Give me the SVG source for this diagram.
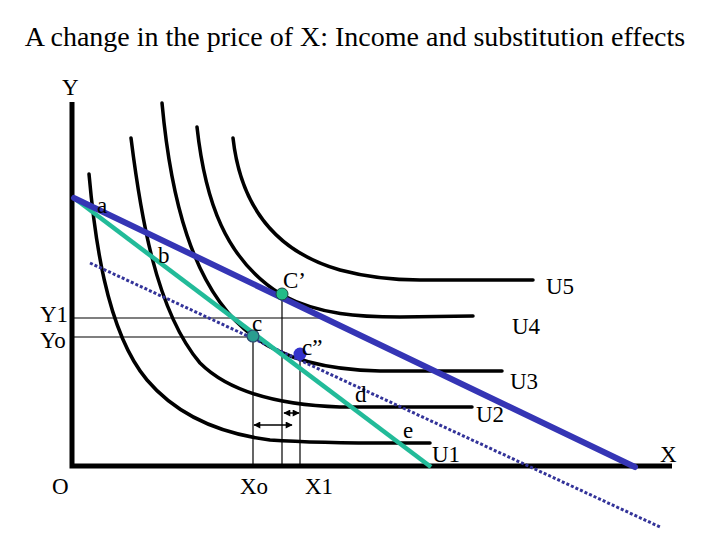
<svg xmlns="http://www.w3.org/2000/svg" width="720" height="540" viewBox="0 0 720 540">
<defs>
<style>
text{font-family:"Liberation Serif","Times New Roman",serif;fill:#000}
.t{font-size:28px}
.l{font-size:23px}
.ic{fill:none;stroke:#000;stroke-width:3.5;stroke-linecap:round}
.ax{stroke:#000;stroke-width:5;fill:none}
.thin{stroke:#000;stroke-width:1.2;fill:none}
.arr{stroke:#000;stroke-width:1.5;fill:none;marker-start:url(#ah);marker-end:url(#ah)}
</style>
<marker id="ah" viewBox="0 0 10 10" refX="9" refY="5" markerUnits="userSpaceOnUse" markerWidth="8" markerHeight="7" orient="auto-start-reverse">
<path d="M0,0 L10,5 L0,10 z" fill="#000"/>
</marker>
</defs>
<rect width="720" height="540" fill="#fff"/>
<text class="t" x="355" y="46" text-anchor="middle">A change in the price of X: Income and substitution effects</text>
<g id="axes">
<path class="ax" d="M72,102 V466 H672"/>
<text class="l" x="62" y="95">Y</text>
<text class="l" x="660" y="462">X</text>
<text class="l" x="52" y="494">O</text>
</g>
<g id="curves">
<g id="U1"><path class="ic" d="M89,174 C94,230 105,330 147,380 C175,413 215,433 270,440 C330,444 400,443 430,443"/><text class="l" x="432" y="462">U1</text></g>
<g id="U2"><path class="ic" d="M131,138 C140,210 155,310 200,363 C230,393 280,405 340,407 L472,407"/><text class="l" x="476" y="422">U2</text></g>
<g id="U3"><path class="ic" d="M162,103 C170,190 190,290 253,336 C285,360 330,370 380,371 L502,371"/><text class="l" x="510" y="389">U3</text></g>
<g id="U4"><path class="ic" d="M197,127 C205,200 225,260 282,295 C320,315 360,317 400,317 L473,316"/><text class="l" x="512" y="334">U4</text></g>
<g id="U5"><path class="ic" d="M233,138 C240,200 270,250 340,270 C370,278 400,280 420,280 L533,280"/><text class="l" x="546" y="294">U5</text></g>
</g>
<g id="connectors">
<path class="thin" d="M74,318 H327 M74,337 H253 M253,336 V466 M282,294 V466 M300,354 V466"/>
<line class="arr" x1="254" y1="425" x2="292" y2="425"/>
<line class="arr" x1="284" y1="413" x2="299" y2="413"/>
<line x1="90" y1="263" x2="660" y2="527" stroke="#333399" stroke-width="3" stroke-dasharray="3,2"/>
<line x1="74" y1="198" x2="431" y2="467" stroke="#22BB99" stroke-width="4.5"/>
<line x1="74" y1="198" x2="635" y2="467" stroke="#3535B5" stroke-width="6" stroke-linecap="round"/>
</g>
<g id="points">
<g id="pC1"><circle cx="282" cy="294" r="6" fill="#22BB88" stroke="#1a4a40" stroke-width="1"/><text class="l" x="283" y="288">C’</text></g>
<g id="pc"><circle cx="253" cy="336" r="6" fill="#2a9d8f" stroke="#2a4a70" stroke-width="1.2"/><text class="l" x="252" y="331">c</text></g>
<g id="pc2"><circle cx="300" cy="354" r="6.5" fill="#3333CC"/><text class="l" x="302" y="355">c”</text></g>
</g>
<g id="labels">
<text class="l" x="97" y="213">a</text>
<text class="l" x="158" y="263">b</text>
<text class="l" x="355" y="402">d</text>
<text class="l" x="403" y="438">e</text>
<text class="l" x="40" y="322">Y1</text>
<text class="l" x="40" y="348">Yo</text>
<text class="l" x="240" y="494">Xo</text>
<text class="l" x="305" y="494">X1</text>
</g>
</svg>
